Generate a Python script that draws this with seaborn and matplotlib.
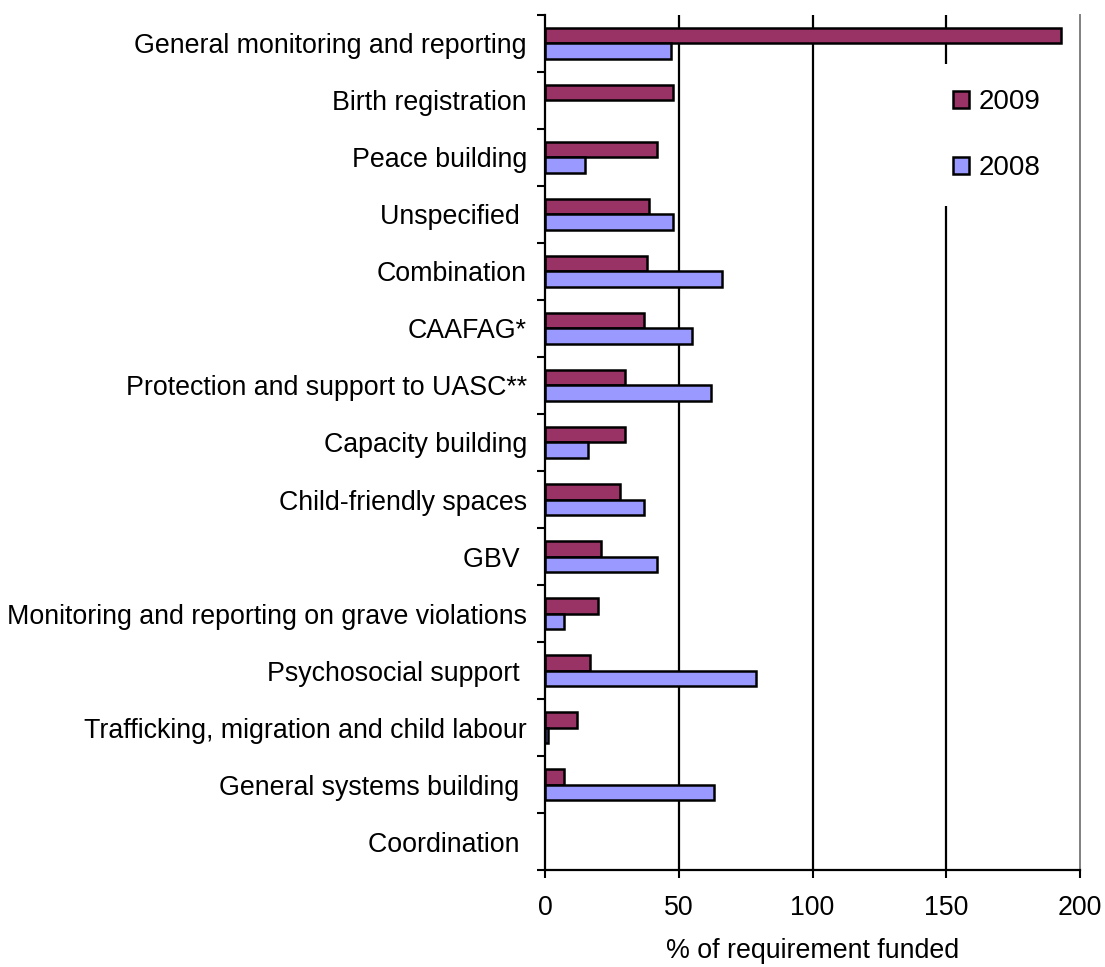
import numpy as np
import pandas as pd
import matplotlib
matplotlib.use("Agg")
import matplotlib.pyplot as plt
import seaborn as sns

# Child protection sub-areas, top to bottom
categories = [
    "General monitoring and reporting",
    "Birth registration",
    "Peace building",
    "Unspecified ",
    "Combination",
    "CAAFAG*",
    "Protection and support to UASC**",
    "Capacity building",
    "Child-friendly spaces",
    "GBV ",
    "Monitoring and reporting on grave violations",
    "Psychosocial support ",
    "Trafficking, migration and child labour",
    "General systems building ",
    "Coordination ",
]
# % of requirement funded (NaN = no funding figure)
nan = float("nan")
funded_2009 = [193, 48, 42, 39, 38, 37, 30, 30, 28, 21, 20, 17, 12, 7, nan]
funded_2008 = [47, nan, 15, 48, 66, 55, 62, 16, 37, 42, 7, 79, 1, 63, nan]
years = ["2009", "2008"]
year_colors = ["#993366", "#9999FF"]
x_ticks = [0, 50, 100, 150, 200]

df = pd.DataFrame({
    "category": categories * 2,
    "year": [years[0]] * len(categories) + [years[1]] * len(categories),
    "funded": funded_2009 + funded_2008,
})

sns.set_theme(style="white")
plt.rcParams["font.family"] = ["Liberation Sans", "DejaVu Sans"]
plt.rcParams["text.color"] = "black"
plt.rcParams["xtick.color"] = "black"
plt.rcParams["ytick.color"] = "black"
plt.rcParams["axes.labelcolor"] = "black"
FS = 19.3

fig = plt.figure(figsize=(11.05, 9.67), dpi=100)
ax = fig.add_axes([0.4932, 0.1003, 0.4842, 0.8842])

sns.barplot(
    data=df, y="category", x="funded", hue="year",
    order=categories, hue_order=years, palette=year_colors,
    orient="h", width=0.56, saturation=1, errorbar=None,
    edgecolor="black", linewidth=1.8, ax=ax,
)

# x axis
ax.set_xlim(0, 200)
ax.set_xticks(x_ticks)
ax.set_xticklabels([str(t) for t in x_ticks], fontsize=FS)
ax.set_xlabel("% of requirement funded", fontsize=FS, labelpad=12)
ax.tick_params(axis="x", direction="out", length=6, width=1.5,
               color="black", labelcolor="black", pad=12, bottom=True)

# y axis: tick marks on category boundaries, labels at category centres
n = len(categories)
ax.set_ylim(n - 0.5, -0.5)
ax.set_yticks(np.arange(-0.5, n, 1.0))
ax.set_yticklabels([])
ax.set_yticks(np.arange(n), minor=True)
ax.set_yticklabels(categories, minor=True, fontsize=FS)
ax.tick_params(axis="y", which="major", direction="out", length=6,
               width=1.5, color="black", left=True)
ax.tick_params(axis="y", which="minor", length=0, pad=13, left=True,
               labelcolor="black")
ax.set_ylabel("")

# vertical gridlines behind the bars
ax.set_axisbelow(True)
ax.grid(axis="x", color="black", linewidth=1.6)
ax.grid(axis="y", visible=False)
gl = ax.get_xgridlines()
gl[0].set_visible(False)
gl[-1].set_visible(False)

ax.spines["top"].set_visible(False)
ax.spines["right"].set_color("#808080")
ax.spines["right"].set_linewidth(1.4)
for side in ["left", "bottom"]:
    ax.spines[side].set_color("black")
    ax.spines[side].set_linewidth(1.6)

# legend in a white, frameless box
old = ax.get_legend()
handles = list(old.legend_handles)
labels = [t.get_text() for t in old.texts]
old.remove()
for h in handles:
    h.set_edgecolor("black")
    h.set_linewidth(1.8)
LFS = 20
leg = ax.legend(
    handles, labels, loc="upper left",
    bbox_to_anchor=(0.827, 0.948), bbox_transform=fig.transFigure,
    fontsize=LFS, frameon=True, facecolor="white", edgecolor="none",
    framealpha=1, fancybox=False, borderpad=0.9, labelspacing=1.45,
    handlelength=0.6, handleheight=0.6, handletextpad=0.33,
)

fig.savefig("out.png", dpi=100, facecolor="white")
